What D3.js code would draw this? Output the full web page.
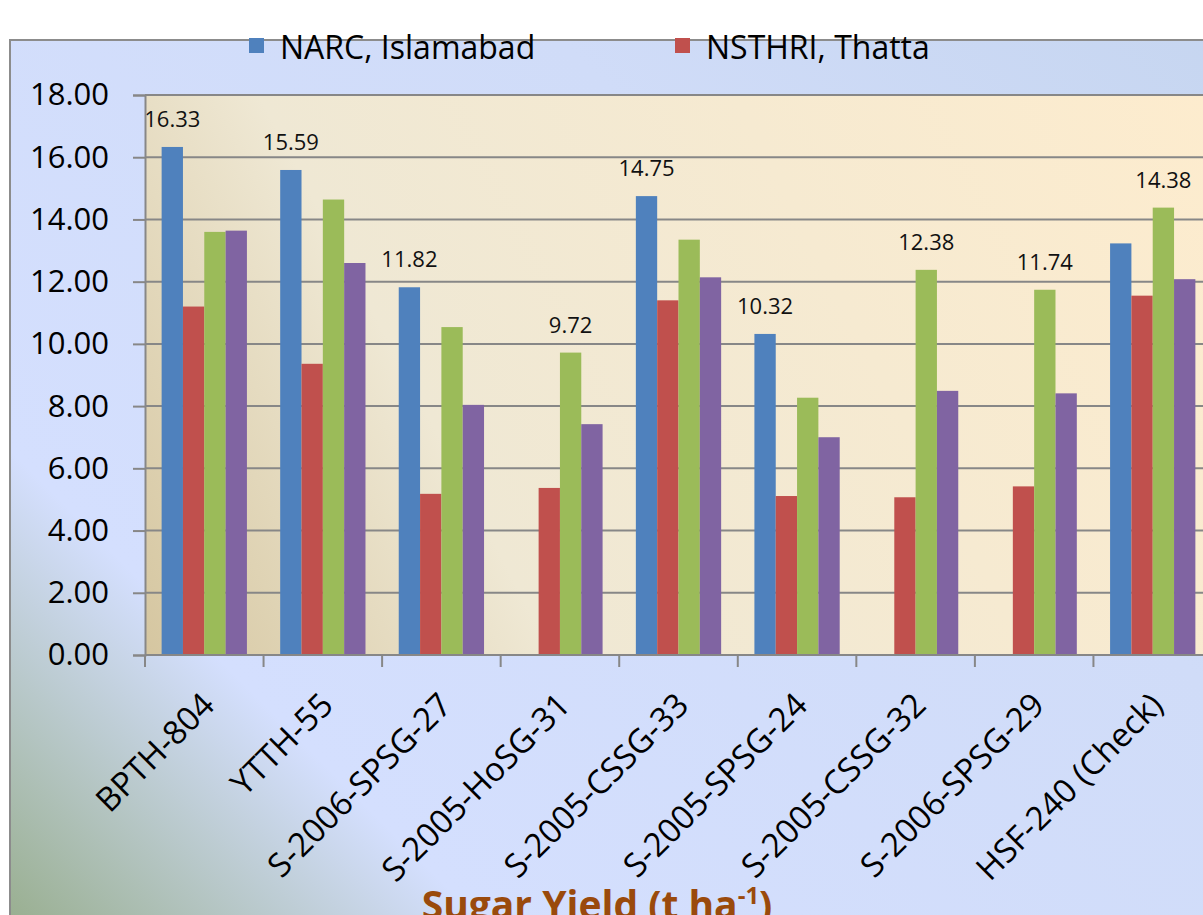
<!DOCTYPE html>
<html>
<head>
<meta charset="utf-8">
<script src="https://cdn.jsdelivr.net/npm/d3@7"></script>
<style>
body { margin:0; background:#fff; overflow:hidden; }
text { font-family:"Open Sans", sans-serif; }
</style>
</head>
<body>
<div id="chart"></div>
<script>
// data
var categories = ["BPTH-804", "YTTH-55", "S-2006-SPSG-27", "S-2005-HoSG-31", "S-2005-CSSG-33",
                  "S-2005-SPSG-24", "S-2005-CSSG-32", "S-2006-SPSG-29", "HSF-240 (Check)"]
var narc   = [16.33, 15.59, 11.82, null, 14.75, 10.32, null, null, 13.23]
var nsthri = [11.20, 9.36, 5.18, 5.37, 11.40, 5.11, 5.07, 5.42, 11.55]
var site3  = [13.60, 14.64, 10.54, 9.72, 13.35, 8.27, 12.38, 11.74, 14.38]
var site4  = [13.64, 12.60, 8.04, 7.42, 12.14, 7.00, 8.49, 8.41, 12.08]
var legendNames = ["NARC, Islamabad", "NSTHRI, Thatta"]
var yTicks = [0, 2, 4, 6, 8, 10, 12, 14, 16, 18]
var axisTitle = "Sugar Yield (t ha"

var seriesKeys = ["s1", "s2", "s3", "s4"]
var seriesVals = [narc, nsthri, site3, site4]
var colors = ["#4f81bd", "#c0504d", "#9bbb59", "#8064a2"]

var W = 1203, H = 915
var plot = {left:145, top:95, right:1212, bottom:655}

var svg = d3.select("#chart").append("svg")
  .attr("width", W).attr("height", H)

var defs = svg.append("defs")
var bg = defs.append("linearGradient").attr("id", "bgGrad")
  .attr("gradientUnits", "userSpaceOnUse")
  .attr("x1", 10).attr("y1", 930).attr("x2", 1210).attr("y2", -270)
bg.append("stop").attr("offset", 0).attr("stop-color", "#98ae8e")
bg.append("stop").attr("offset", 0.2).attr("stop-color", "#d4dffe")
bg.append("stop").attr("offset", 0.6).attr("stop-color", "#d0dcf8")
bg.append("stop").attr("offset", 1).attr("stop-color", "#c2d3ed")

var pg = defs.append("linearGradient").attr("id", "plotGrad")
  .attr("gradientUnits", "userSpaceOnUse")
  .attr("x1", plot.left).attr("y1", plot.bottom).attr("x2", plot.right).attr("y2", plot.top)
pg.append("stop").attr("offset", 0).attr("stop-color", "#d5c6a0")
pg.append("stop").attr("offset", 0.3).attr("stop-color", "#efe8d4")
pg.append("stop").attr("offset", 1).attr("stop-color", "#fdecce")

// chart area
svg.append("rect").attr("x", 10).attr("y", 40).attr("width", W).attr("height", H)
  .attr("fill", "url(#bgGrad)").attr("stroke", "#8c8c8c").attr("stroke-width", 2)

// plot area
svg.append("rect").attr("x", plot.left).attr("y", plot.top)
  .attr("width", plot.right - plot.left).attr("height", plot.bottom - plot.top)
  .attr("fill", "url(#plotGrad)")

var x0 = d3.scaleBand().domain(categories).range([plot.left, plot.right]).padding(0)
var x1 = d3.scaleBand().domain(seriesKeys).range([0, x0.bandwidth()])
  .paddingInner(0).paddingOuter(0.78)
var y = d3.scaleLinear().domain([0, 18]).range([plot.bottom, plot.top])

// gridlines
svg.append("g").selectAll("line").data(yTicks.slice(1)).enter().append("line")
  .attr("x1", plot.left).attr("x2", plot.right)
  .attr("y1", d => y(d)).attr("y2", d => y(d))
  .attr("stroke", "#878787").attr("stroke-width", 2)

// bars
var rows = categories.map((c, i) => ({cat:c, vals:seriesKeys.map((k, j) => ({key:k, j:j, v:seriesVals[j][i]}))}))
var groups = svg.append("g").selectAll("g").data(rows).enter().append("g")
  .attr("transform", d => "translate(" + x0(d.cat) + ",0)")
groups.selectAll("rect").data(d => d.vals.filter(e => e.v != null)).enter().append("rect")
  .attr("x", d => x1(d.key))
  .attr("y", d => y(d.v))
  .attr("width", x1.bandwidth())
  .attr("height", d => y(0) - y(d.v))
  .attr("fill", d => colors[d.j])

// label on the tallest bar of each group
groups.append("text")
  .datum(d => d.vals.filter(e => e.v != null).reduce((a, b) => b.v > a.v ? b : a))
  .attr("x", d => x1(d.key) + x1.bandwidth() / 2)
  .attr("y", d => y(d.v) - 20)
  .attr("text-anchor", "middle")
  .attr("font-size", 22).attr("fill", "#111")
  .text(d => d.v.toFixed(2))

// y axis
var yAxis = d3.axisLeft(y).tickValues(yTicks).tickFormat(d3.format(".2f")).tickSize(12).tickPadding(24)
var ya = svg.append("g").attr("transform", "translate(" + plot.left + ",0)").call(yAxis)
ya.select(".domain").attr("stroke", "#878787").attr("stroke-width", 2)
ya.selectAll(".tick line").attr("stroke", "#878787").attr("stroke-width", 2)
ya.selectAll(".tick text").attr("font-size", 31).attr("fill", "#000")
  .attr("font-family", "'Open Sans', sans-serif")

// x axis line + boundary ticks
svg.append("line").attr("x1", plot.left).attr("x2", plot.right)
  .attr("y1", plot.bottom).attr("y2", plot.bottom)
  .attr("stroke", "#878787").attr("stroke-width", 2)
svg.append("g").selectAll("line").data(categories).enter().append("line")
  .attr("x1", d => x0(d)).attr("x2", d => x0(d))
  .attr("y1", plot.bottom).attr("y2", plot.bottom + 12)
  .attr("stroke", "#878787").attr("stroke-width", 2)

// category labels
svg.append("g").selectAll("text").data(categories).enter().append("text")
  .attr("transform", d => "translate(" + (x0(d) + x0.bandwidth() / 2 + 4) + ",699) rotate(-45)")
  .attr("text-anchor", "end").attr("dy", "0.35em")
  .attr("font-size", 33).attr("fill", "#000")
  .text(d => d)

// legend
var lg = svg.append("g").selectAll("g").data(legendNames).enter().append("g")
  .attr("transform", (d, i) => "translate(" + [249, 675][i] + ",0)")
lg.append("rect").attr("x", 0).attr("y", 38).attr("width", 15).attr("height", 15)
  .attr("fill", (d, i) => colors[i])
lg.append("text").attr("x", 31).attr("y", 59).attr("font-size", 32).attr("fill", "#000")
  .text(d => d)

// axis title (cut by the bottom edge, as in the source)
var t = svg.append("text").attr("x", 597).attr("y", 919).attr("text-anchor", "middle")
  .attr("font-size", 39).attr("font-weight", "bold").attr("fill", "#9a4a0c")
t.append("tspan").text(axisTitle)
t.append("tspan").attr("font-size", 24).attr("dy", -15).text("-1")
t.append("tspan").attr("dy", 15).text(")")
</script>
</body>
</html>
